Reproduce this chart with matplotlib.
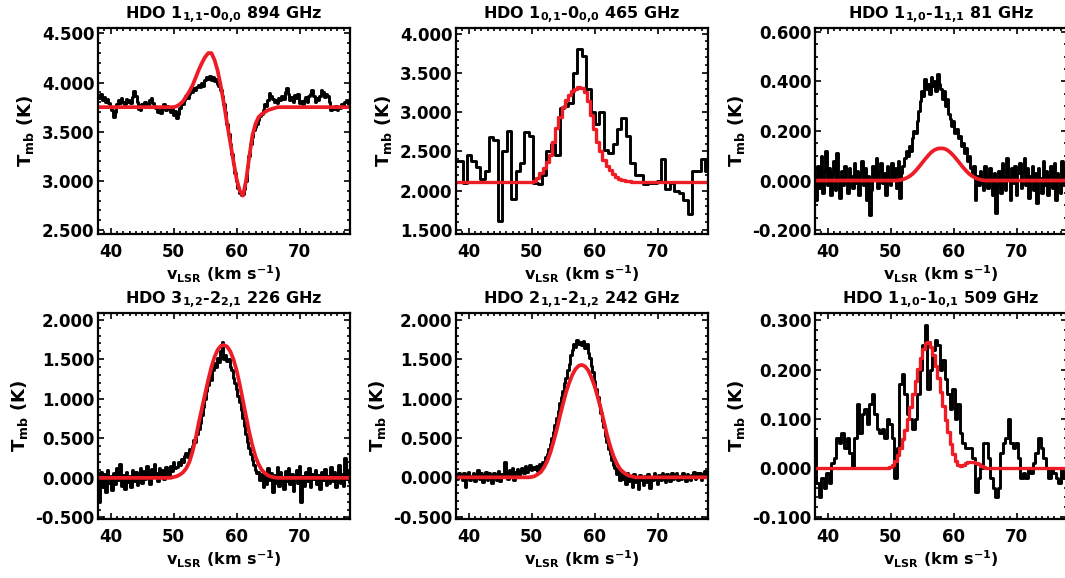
import numpy as np
import matplotlib.pyplot as plt
from matplotlib.ticker import MultipleLocator, FormatStrFormatter

plt.rcParams['font.family'] = ['DejaVu Sans']
plt.rcParams['font.weight'] = 'bold'
plt.rcParams['axes.labelweight'] = 'bold'
plt.rcParams['mathtext.fontset'] = 'dejavusans'
plt.rcParams['mathtext.default'] = 'bf'

# velocity channels (km/s)
v_fine = np.arange(38.0, 78.01, 0.25)   # 161 channels
v_fit = np.arange(38.0, 78.01, 0.5)     # 81 points of the model
v_465 = np.arange(38.0, 78.0, 0.7)      # 58 channels
v_509 = np.arange(38.0, 78.01, 0.4)     # 101 channels

titles = ["HDO 1$_{1{,}1}$-0$_{0{,}0}$ 894 GHz", "HDO 1$_{0{,}1}$-0$_{0{,}0}$ 465 GHz",
          "HDO 1$_{1{,}0}$-1$_{1{,}1}$ 81 GHz", "HDO 3$_{1{,}2}$-2$_{2{,}1}$ 226 GHz",
          "HDO 2$_{1{,}1}$-2$_{1{,}2}$ 242 GHz", "HDO 1$_{1{,}0}$-1$_{0{,}1}$ 509 GHz"]

# observed spectra (K)
obs_894 = [3.86, 3.84, 3.88, 3.82, 3.85, 3.80, 3.83, 3.79, 3.76, 3.72,
           3.65, 3.70, 3.78, 3.82, 3.79, 3.84, 3.80, 3.78, 3.83, 3.80,
           3.82, 3.79, 3.85, 3.91, 3.86, 3.80, 3.73, 3.72, 3.78, 3.76,
           3.80, 3.78, 3.75, 3.82, 3.84, 3.79, 3.76, 3.74, 3.70, 3.72,
           3.69, 3.75, 3.78, 3.72, 3.76, 3.74, 3.70, 3.73, 3.67, 3.71,
           3.64, 3.68, 3.74, 3.79, 3.78, 3.82, 3.86, 3.84, 3.88, 3.92,
           3.90, 3.94, 3.92, 3.96, 3.98, 3.95, 4.00, 3.97, 4.03, 4.06,
           4.04, 4.07, 4.03, 4.06, 4.02, 4.04, 3.99, 3.97, 3.92, 3.86,
           3.78, 3.70, 3.58, 3.48, 3.38, 3.27, 3.17, 3.08, 3.00, 2.93,
           2.88, 2.86, 2.87, 2.92, 3.00, 3.14, 3.25, 3.38, 3.45, 3.52,
           3.55, 3.58, 3.62, 3.66, 3.68, 3.72, 3.78, 3.76, 3.82, 3.89,
           3.86, 3.83, 3.80, 3.82, 3.79, 3.84, 3.82, 3.86, 3.83, 3.90,
           3.94, 3.88, 3.82, 3.85, 3.80, 3.87, 3.84, 3.88, 3.79, 3.81,
           3.78, 3.82, 3.85, 3.80, 3.86, 3.88, 3.92, 3.86, 3.80, 3.84,
           3.82, 3.86, 3.92, 3.90, 3.85, 3.88, 3.86, 3.80, 3.72, 3.74,
           3.73, 3.76, 3.72, 3.75, 3.74, 3.78, 3.76, 3.80, 3.82, 3.78,
           3.80]

obs_465 = [2.38, 2.38, 2.10, 2.46, 2.38, 2.30, 2.15, 2.25, 2.68, 2.65,
           1.62, 2.50, 2.76, 1.90, 2.25, 2.35, 2.75, 2.70, 2.10, 2.08,
           2.20, 2.50, 2.60, 2.45, 3.05, 3.08, 3.12, 3.50, 3.80, 3.72,
           3.30, 3.00, 2.85, 3.00, 2.52, 2.48, 2.60, 2.78, 2.92, 2.70,
           2.35, 2.20, 2.20, 2.08, 2.10, 2.10, 2.12, 2.40, 2.02, 2.10,
           2.00, 1.97, 1.88, 1.70, 2.25, 2.25, 2.40, 2.25]

obs_81 = [0.02, -0.08, 0.06, -0.03, 0.10, -0.05, 0.04, 0.12, -0.02, 0.05,
          -0.06, 0.03, 0.08, -0.04, 0.11, 0.01, -0.07, 0.04, -0.02, 0.06,
          0.00, -0.05, 0.05, 0.02, -0.03, 0.07, -0.01, 0.04, -0.06, 0.03,
          0.08, -0.02, 0.05, -0.08, 0.02, -0.14, -0.04, 0.06, 0.01, 0.09,
          -0.03, 0.04, 0.07, -0.01, 0.03, -0.06, 0.06, 0.02, -0.02, 0.07,
          0.01, 0.05, -0.03, 0.08, -0.07, 0.03, 0.06, 0.09, 0.12, 0.10,
          0.14, 0.12, 0.17, 0.20, 0.19, 0.24, 0.28, 0.32, 0.36, 0.34,
          0.41, 0.37, 0.39, 0.35, 0.42, 0.38, 0.40, 0.36, 0.43, 0.39,
          0.37, 0.33, 0.36, 0.30, 0.33, 0.27, 0.25, 0.22, 0.24, 0.19,
          0.21, 0.17, 0.18, 0.14, 0.15, 0.11, 0.13, 0.08, 0.10, 0.05,
          0.03, 0.06, -0.08, 0.02, -0.02, 0.04, 0.01, -0.04, 0.06, 0.02,
          -0.03, 0.05, 0.00, -0.06, 0.03, -0.13, -0.02, 0.04, -0.05, 0.07,
          0.02, -0.04, 0.09, 0.01, -0.08, 0.05, -0.01, 0.06, -0.06, 0.03,
          0.07, -0.03, 0.04, 0.09, -0.02, 0.05, -0.07, 0.02, 0.06, -0.04,
          0.03, -0.09, 0.05, 0.01, -0.05, 0.08, -0.02, 0.04, -0.06, 0.02,
          0.06, -0.03, 0.07, -0.08, 0.03, 0.01, -0.05, 0.08, -0.02, 0.05,
          0.01]

obs_226 = [-0.05, -0.30, 0.08, -0.12, 0.05, -0.18, 0.10, -0.06, 0.02, -0.15,
           0.06, -0.08, 0.12, -0.03, 0.18, -0.10, 0.04, -0.14, 0.08, -0.05,
           0.03, -0.12, 0.10, -0.04, 0.07, -0.09, 0.02, 0.12, -0.06, 0.09,
           -0.02, 0.15, 0.04, -0.08, 0.11, 0.02, 0.18, 0.06, -0.04, 0.13,
           0.05, 0.10, -0.02, 0.14, 0.08, 0.03, 0.15, 0.09, 0.20, 0.12,
           0.14, 0.20, 0.16, 0.24, 0.20, 0.28, 0.32, 0.26, 0.36, 0.34,
           0.40, 0.48, 0.45, 0.56, 0.62, 0.70, 0.80, 0.90, 1.00, 1.10,
           1.18, 1.28, 1.24, 1.36, 1.45, 1.40, 1.52, 1.46, 1.60, 1.72,
           1.50, 1.56, 1.48, 1.50, 1.40, 1.36, 1.26, 1.20, 1.12, 1.04,
           0.96, 0.86, 0.76, 0.66, 0.56, 0.46, 0.38, 0.30, 0.22, 0.16,
           0.10, 0.06, 0.08, -0.03, 0.05, -0.12, 0.02, -0.08, 0.12, -0.03,
           0.06, -0.18, 0.04, -0.06, 0.14, -0.10, 0.07, -0.02, -0.14, 0.09,
           -0.04, 0.12, -0.08, 0.05, -0.16, 0.03, 0.10, -0.06, 0.15, -0.30,
           0.02, -0.10, 0.08, -0.04, 0.13, -0.12, 0.05, -0.02, 0.10, -0.08,
           0.04, -0.14, 0.07, -0.03, 0.11, -0.09, 0.02, -0.06, 0.14, -0.04,
           0.08, -0.12, 0.03, 0.16, -0.07, 0.05, -0.10, 0.25, -0.02, 0.10,
           -0.05]

obs_242 = [0.04, -0.02, 0.06, 0.01, -0.04, 0.05, -0.12, 0.03, 0.07, -0.03,
           0.02, 0.06, -0.05, 0.04, 0.09, -0.02, 0.05, -0.06, 0.03, 0.07,
           -0.04, 0.05, 0.01, -0.07, 0.06, 0.02, -0.03, 0.08, -0.05, 0.04,
           0.03, 0.20, 0.06, -0.02, 0.09, 0.04, 0.12, -0.04, 0.07, 0.10,
           0.02, 0.08, 0.12, 0.05, 0.14, 0.07, 0.11, 0.16, 0.09, 0.13,
           0.10, 0.15, 0.08, 0.17, 0.12, 0.20, 0.18, 0.26, 0.30, 0.36,
           0.42, 0.50, 0.58, 0.66, 0.76, 0.84, 0.94, 1.02, 1.10, 1.20,
           1.26, 1.36, 1.44, 1.55, 1.62, 1.70, 1.66, 1.75, 1.70, 1.72,
           1.68, 1.74, 1.65, 1.70, 1.58, 1.52, 1.42, 1.34, 1.22, 1.12,
           1.02, 0.92, 0.82, 0.72, 0.64, 0.52, 0.45, 0.36, 0.30, 0.22,
           0.16, 0.12, 0.04, 0.09, -0.04, 0.06, -0.02, 0.03, -0.08, 0.05,
           -0.05, 0.02, -0.12, 0.04, -0.06, 0.01, -0.15, 0.03, -0.03, -0.10,
           0.02, -0.06, 0.04, -0.13, 0.01, -0.04, 0.05, -0.02, -0.08, 0.03,
           -0.03, 0.05, 0.00, -0.06, 0.04, 0.02, -0.05, 0.06, -0.02, 0.03,
           0.05, -0.04, 0.02, -0.02, 0.06, 0.00, -0.05, 0.04, 0.01, -0.03,
           0.03, 0.07, -0.02, 0.05, 0.01, 0.06, -0.03, 0.04, 0.08, 0.02,
           0.03]

obs_509 = [0.06, -0.03, -0.06, -0.02, -0.04, -0.01, -0.03, 0.01, 0.02, 0.06,
           0.05, 0.07, 0.04, 0.06, 0.03, 0.00, 0.06, 0.13, 0.07, 0.11,
           0.12, 0.09, 0.13, 0.15, 0.11, 0.08, 0.07, 0.08, 0.06, 0.10,
           0.09, 0.06, -0.02, 0.04, 0.17, 0.19, 0.15, 0.11, 0.10, 0.08,
           0.10, 0.15, 0.20, 0.25, 0.29, 0.16, 0.20, 0.24, 0.26, 0.25,
           0.20, 0.22, 0.18, 0.15, 0.12, 0.16, 0.10, 0.13, 0.07, 0.05,
           0.04, 0.04, 0.04, 0.02, -0.05, -0.02, 0.00, 0.05, 0.05, 0.02,
           -0.02, -0.04, -0.06, -0.04, 0.03, 0.05, 0.06, 0.10, 0.05, 0.04,
           0.05, 0.02, -0.02, -0.01, -0.02, 0.00, -0.01, 0.01, 0.03, 0.06,
           0.04, 0.02, 0.00, -0.02, 0.00, -0.01, -0.02, -0.03, 0.00, -0.02,
           -0.03]

# model fits (K)
fit_894 = [3.75] * 25 + [3.76, 3.78, 3.81, 3.86, 3.91, 3.97, 4.05, 4.13, 4.20, 4.26,
                         4.30, 4.30, 4.23, 4.12, 3.96, 3.78, 3.58, 3.39, 3.20, 3.02,
                         2.90, 2.85, 3.00, 3.24, 3.46, 3.58, 3.65, 3.68, 3.70, 3.72,
                         3.73, 3.74] + [3.75] * 24
fit_465 = [2.11] * 25 + [2.13, 2.16, 2.22, 2.29, 2.36, 2.46, 2.62, 2.80, 2.94, 3.06,
                         3.15, 3.22, 3.27, 3.30, 3.32, 3.31, 3.26, 3.14, 2.96, 2.78,
                         2.62, 2.50, 2.39, 2.32, 2.26, 2.21, 2.18, 2.15, 2.14, 2.13,
                         2.12] + [2.11] * 25
fit_81 = [0.0] * 27 + [0.002, 0.005, 0.010, 0.017, 0.027, 0.040, 0.055, 0.071, 0.087,
                       0.102, 0.115, 0.124, 0.129, 0.130, 0.129, 0.123, 0.113, 0.100,
                       0.085, 0.069, 0.053, 0.039, 0.026, 0.017, 0.010, 0.005,
                       0.002] + [0.0] * 27
fit_226 = [0.0] * 24 + [0.01, 0.02, 0.04, 0.07, 0.12, 0.20, 0.33, 0.50, 0.70, 0.88,
                        1.06, 1.24, 1.40, 1.53, 1.62, 1.67, 1.68, 1.66, 1.60, 1.50,
                        1.36, 1.18, 0.98, 0.78, 0.58, 0.41, 0.27, 0.17, 0.10, 0.06,
                        0.03, 0.015, 0.005] + [0.0] * 24
fit_242 = [0.0] * 24 + [0.005, 0.015, 0.04, 0.07, 0.13, 0.21, 0.32, 0.46, 0.61, 0.78,
                        0.94, 1.09, 1.21, 1.31, 1.38, 1.42, 1.43, 1.41, 1.36, 1.27,
                        1.16, 1.02, 0.87, 0.70, 0.53, 0.39, 0.27, 0.18, 0.11, 0.07,
                        0.04, 0.02, 0.01] + [0.0] * 24
fit_509 = [0.0] * 30 + [0.002, 0.006, 0.014, 0.026, 0.040, 0.058, 0.078, 0.100, 0.124,
                        0.150, 0.176, 0.201, 0.224, 0.242, 0.254, 0.255, 0.246, 0.230,
                        0.208, 0.182, 0.154, 0.126, 0.098, 0.072, 0.048, 0.028, 0.014,
                        0.006, 0.004, 0.006, 0.009, 0.011, 0.012, 0.012, 0.010, 0.007,
                        0.004, 0.002] + [0.0] * 33

panels = [
    (v_fine, obs_894, v_fit, fit_894, False, (2.46, 4.555), 0.5, 0.1),
    (v_465, obs_465, v_fit, fit_465, True, (1.45, 4.07), 0.5, 0.1),
    (v_fine, obs_81, v_fit, fit_81, False, (-0.216, 0.616), 0.2, 0.05),
    (v_fine, obs_226, v_fit, fit_226, False, (-0.52, 2.085), 0.5, 0.1),
    (v_fine, obs_242, v_fit, fit_242, False, (-0.53, 2.09), 0.5, 0.1),
    (v_509, obs_509, v_509, fit_509, True, (-0.104, 0.315), 0.1, 0.02),
]

W, H = 1065, 578
fig = plt.figure(figsize=(W / 100, H / 100), dpi=100)
lefts = [98, 456, 815]
tops = [28, 313]
aw, ah = 252, 206

red = '#ee1c25'
for k, (vo, to, vf, tf, fit_steps, ylim, major, minor) in enumerate(panels):
    l = lefts[k % 3]
    t = tops[k // 3]
    ax = fig.add_axes([l / W, 1 - (t + ah) / H, aw / W, ah / H])
    ax.plot(vo, to, drawstyle='steps-mid', color='black', lw=2.1)
    if fit_steps:
        ax.plot(vf, tf, drawstyle='steps-mid', color=red, lw=2.4)
    else:
        ax.plot(vf, tf, color=red, lw=2.7)
    ax.set_xlim(38, 78)
    ax.set_ylim(*ylim)
    ax.xaxis.set_major_locator(MultipleLocator(10))
    ax.xaxis.set_minor_locator(MultipleLocator(1))
    ax.yaxis.set_major_locator(MultipleLocator(major))
    ax.yaxis.set_minor_locator(MultipleLocator(minor))
    ax.yaxis.set_major_formatter(FormatStrFormatter('%.3f'))
    ax.tick_params(which='both', direction='in', top=True, right=True, width=1.2)
    ax.tick_params(which='major', length=4, labelsize=12)
    ax.tick_params(which='minor', length=2)
    ax.tick_params(axis='x', pad=6.5)
    ax.tick_params(axis='y', pad=2.5)
    for s in ax.spines.values():
        s.set_linewidth(1.6)
    ax.set_title(titles[k], fontsize=11.5, fontweight='bold', pad=6)
    ax.set_xlabel('v$_{LSR}$ (km s$^{-1}$)', fontsize=11.5, labelpad=2)
    ax.set_ylabel('T$_{mb}$ (K)', fontsize=13, labelpad=4)

fig.savefig('out.png', dpi=100)
